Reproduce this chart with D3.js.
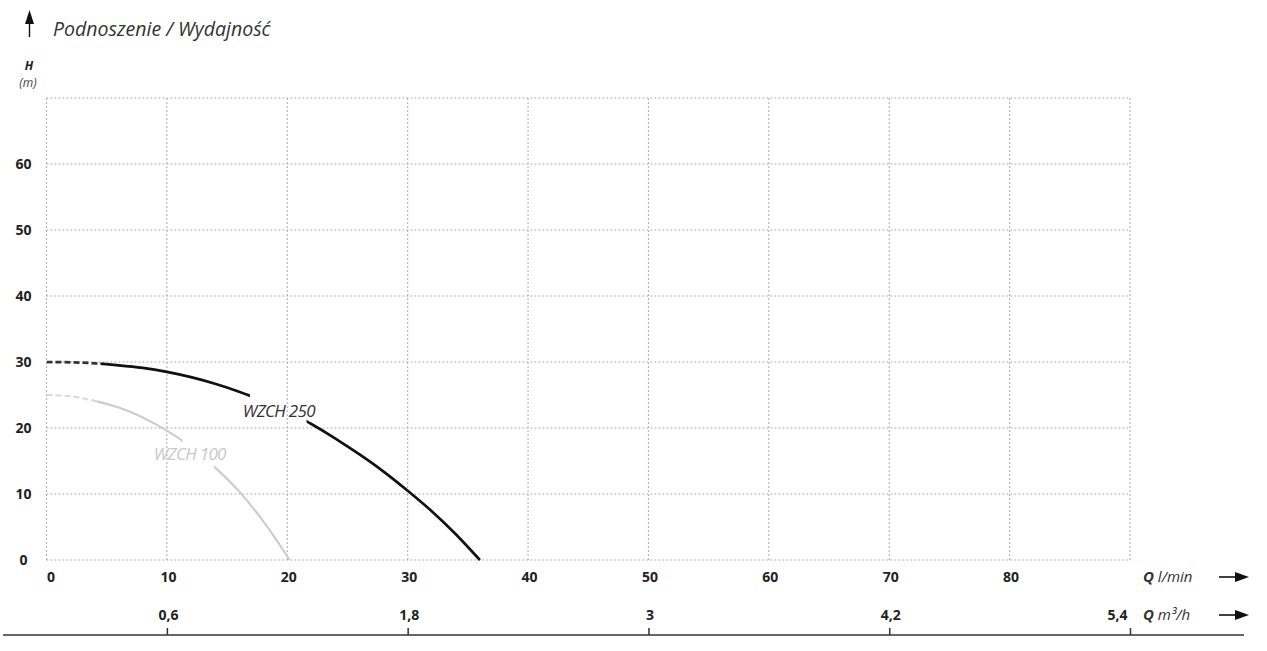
<!DOCTYPE html>
<html><head><meta charset="utf-8">
<script src="https://cdn.jsdelivr.net/npm/d3@7"></script>
<style>body{margin:0;background:#fff}svg{display:block}</style></head><body>
<svg id="c" width="1267" height="651"></svg>
<script>
// ---- data ----
const qGrid = [0,10,20,30,40,50,60,70,80,90];
const qTickLabels = ["0","10","20","30","40","50","60","70","80"];
const hGrid = [0,10,20,30,40,50,60,70];
const hTickLabels = ["0","10","20","30","40","50","60"];
const m3TickPos = [10,30,50,70,90];          // position in l/min
const m3TickLabels = ["0,6","1,8","3","4,2","5,4"];

const wzch250Q = [0,2,4,6,8,10,12,14,16,18,20,22,24,26,28,30,32,34,36];
const wzch250H = [30,29.95,29.8,29.5,29.1,28.5,27.7,26.7,25.5,24.1,22.5,20.6,18.4,16.0,13.4,10.5,7.4,3.9,0];
const wzch250Dash = [0,4.5];   // dashed section (Q)
const wzch250Gap = [16.9,21.6]; // gap for label

const wzch100Q = [0,2,4,6,8,10,12,14,16,18,19,20.2];
const wzch100H = [25,24.8,24.1,23.1,21.6,19.6,17.1,14.0,10.4,5.9,3.3,0];
const wzch100Dash = [0,4.2];
const wzch100Gap = [11.3,13.9];

const seriesNames = ["WZCH 250","WZCH 100"];
const labelPos = [[19.3,22.6],[11.9,16]];

// ---- layout ----
const svg = d3.select("#c");
const FONT = "'Open Sans', 'Noto Sans', sans-serif";
const x = d3.scaleLinear().domain([0,90]).range([46.5,1130]);
const y = d3.scaleLinear().domain([0,70]).range([560,98]);

// grid
const grid = svg.append("g").attr("stroke","#a8a8a8").attr("stroke-width",1.1).attr("stroke-dasharray","1.8,2.2");
grid.selectAll("line.v").data(qGrid).join("line").attr("class","v")
  .attr("x1",d=>x(d)).attr("x2",d=>x(d)).attr("y1",y(0)).attr("y2",y(70));
grid.selectAll("line.h").data(hGrid).join("line").attr("class","h")
  .attr("y1",d=>y(d)).attr("y2",d=>y(d)).attr("x1",x(0)).attr("x2",x(90));

// y axis labels
const yAx = svg.append("g").attr("transform",`translate(${x(0)},0)`)
  .call(d3.axisLeft(y).tickValues(hGrid.slice(0,7)).tickSize(0).tickFormat((d,i)=>hTickLabels[i]));
yAx.select(".domain").remove();
yAx.selectAll("text").attr("x",-23).attr("text-anchor","middle").attr("dy","0.35em")
  .style("font-family",FONT).style("font-weight","700").style("font-size","14px").attr("fill","#222");

// x axis labels (l/min)
const xAx = svg.append("g").attr("transform",`translate(0,${y(0)})`)
  .call(d3.axisBottom(x).tickValues(qGrid.slice(0,9)).tickSize(0).tickFormat((d,i)=>qTickLabels[i]));
xAx.select(".domain").remove();
xAx.selectAll("text").attr("y",17).attr("dy","0.35em")
  .attr("dx",(d,i)=>i===0?4:1)
  .style("font-family",FONT).style("font-weight","700").style("font-size","14px").attr("fill","#222");

// bottom m3/h axis
const bx = svg.append("g").attr("transform","translate(0,635)")
  .call(d3.axisBottom(x).tickValues(m3TickPos).tickSize(-7).tickFormat((d,i)=>m3TickLabels[i]));
bx.select(".domain").remove();
bx.selectAll(".tick line").attr("stroke","#333").attr("stroke-width",1.5);
bx.selectAll("text").attr("y",-20).attr("dy","0.35em")
  .attr("text-anchor",(d,i)=>i===m3TickPos.length-1?"end":"middle")
  .attr("dx",(d,i)=>i===m3TickPos.length-1?-3:1)
  .style("font-family",FONT).style("font-weight","700").style("font-size","14px").attr("fill","#222");
svg.append("line").attr("x1",3).attr("x2",1244).attr("y1",635).attr("y2",635)
  .attr("stroke","#333").attr("stroke-width",1.5);

// arrows
function rightArrow(yy){
  svg.append("line").attr("x1",1219).attr("x2",1238).attr("y1",yy).attr("y2",yy).attr("stroke","#111").attr("stroke-width",1.6);
  svg.append("path").attr("d",`M1235,${yy-5}L1249,${yy}L1235,${yy+5}Z`).attr("fill","#111");
}
rightArrow(577); rightArrow(615);
svg.append("line").attr("x1",29.5).attr("x2",29.5).attr("y1",37).attr("y2",20).attr("stroke","#111").attr("stroke-width",1.4);
svg.append("path").attr("d","M25,24L29.5,10L34,24Z").attr("fill","#111");

// axis titles
svg.append("text").attr("x",53).attr("y",36).text("Podnoszenie / Wydajność")
  .style("font-family",FONT).style("font-style","italic").style("font-size","19.5px").attr("fill","#333").attr("letter-spacing","0");
svg.append("text").attr("x",29).attr("y",70).attr("text-anchor","middle").text("H")
  .style("font-family",FONT).style("font-style","italic").style("font-weight","700").style("font-size","12px").attr("fill","#222");
svg.append("text").attr("x",28).attr("y",87).attr("text-anchor","middle").text("(m)")
  .style("font-family",FONT).style("font-style","italic").style("font-size","12px").attr("fill","#444");

const q1 = svg.append("text").attr("x",1143).attr("y",582).style("font-family",FONT).style("font-size","15px").attr("fill","#333");
q1.append("tspan").text("Q").style("font-weight","700").style("font-style","italic");
q1.append("tspan").text(" l/min").style("font-style","italic");
const q2 = svg.append("text").attr("x",1143).attr("y",620).style("font-family",FONT).style("font-size","15px").attr("fill","#333");
q2.append("tspan").text("Q").style("font-weight","700").style("font-style","italic");
q2.append("tspan").text(" m³/h").style("font-style","italic");

// curves
const line = d3.line().x(d=>x(d[0])).y(d=>y(d[1])).curve(d3.curveNatural);
const defs = svg.append("defs");
function clip(id, q0, q1){
  defs.append("clipPath").attr("id",id).append("rect")
    .attr("x",x(q0)).attr("width",x(q1)-x(q0)).attr("y",0).attr("height",651);
  return `url(#${id})`;
}
function drawCurve(key, Q, H, dash, gap, color, dashColor, w){
  const pts = Q.map((q,i)=>[q,H[i]]);
  const dGen = line(pts);
  svg.append("path").attr("d",dGen).attr("fill","none").attr("stroke",dashColor).attr("stroke-width",w)
    .attr("stroke-dasharray","6,3").attr("clip-path",clip(key+"a",dash[0],dash[1]));
  svg.append("path").attr("d",dGen).attr("fill","none").attr("stroke",color).attr("stroke-width",w)
    .attr("clip-path",clip(key+"b",dash[1],gap[0]));
  svg.append("path").attr("d",dGen).attr("fill","none").attr("stroke",color).attr("stroke-width",w)
    .attr("clip-path",clip(key+"c",gap[1],Q[Q.length-1]+1));
}
drawCurve("w100", wzch100Q, wzch100H, wzch100Dash, wzch100Gap, "#cdcdcd", "#dadada", 2.2);
drawCurve("w250", wzch250Q, wzch250H, wzch250Dash, wzch250Gap, "#111", "#333", 2.7);

const labColors = ["#333","#c8c8c8"];
seriesNames.forEach((n,i)=>{
  svg.append("text").attr("x",x(labelPos[i][0])).attr("y",y(labelPos[i][1])).attr("text-anchor","middle")
    .attr("dy","0.35em").text(n).style("font-family",FONT).style("font-style","italic")
    .style("font-size","17px").attr("letter-spacing","-0.7").attr("fill",labColors[i]);
});
</script>
</body></html>
